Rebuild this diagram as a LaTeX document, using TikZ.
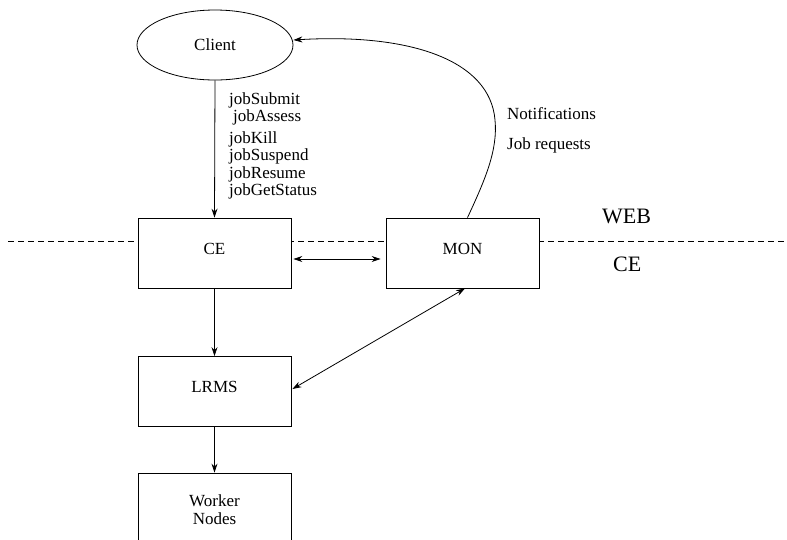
\documentclass[tikz,border=0pt]{standalone}
\usepackage{fontspec}
\setmainfont{Liberation Serif}
\usetikzlibrary{arrows.meta,shapes.geometric}
\begin{document}
\begin{tikzpicture}[x=1pt,y=-1pt,
  every node/.style={font=\fontsize{17}{20}\selectfont},
  boxnode/.style={draw,fill=white,line width=0.8pt,minimum width=153pt,minimum height=70pt,inner sep=0pt,text height=12pt,text depth=10pt},
  arr/.style={line width=0.8pt,-{Stealth[length=9pt,width=6pt]}},
  darr/.style={line width=0.8pt,{Stealth[length=9pt,width=6pt]}-{Stealth[length=9pt,width=6pt]}},
  lbl/.style={anchor=base west,inner sep=0pt},
  biglbl/.style={anchor=base west,inner sep=0pt,font=\fontsize{22}{24}\selectfont}]
\useasboundingbox (0,0) rectangle (787,539);
\clip (0,0) rectangle (787,539);
\fill[white] (0,0) rectangle (787,539);
% dashed boundary
\coordinate (dl) at (8,241);
\coordinate (dr) at (787,241);
\draw[dash pattern=on 6pt off 4pt,line width=0.8pt] (dl) -- (dr);
% nodes
\node[draw,ellipse,line width=0.8pt,minimum width=156pt,minimum height=70pt,inner sep=0pt] (client) at (215,45) {Client};
\node[boxnode] (ce) at (214.5,253) {CE};
\node[boxnode] (mon) at (462.5,253) {MON};
\node[boxnode] (lrms) at (214.5,391.5) {LRMS};
\node[draw,fill=white,line width=0.8pt,minimum width=153pt,minimum height=74pt,inner sep=0pt,align=center,font=\fontsize{17}{18}\selectfont] (wn) at (214.5,510) {Worker\\Nodes};
% connectors
\draw[arr] (client.south) -- (ce.north);
\draw[arr] (ce.south) -- (lrms.north);
\draw[arr] (lrms.south) -- (wn.north);
\draw[darr] ([xshift=2pt,yshift=-6pt]ce.east) -- ([xshift=-5pt,yshift=-6pt]mon.west);
\draw[darr] ([xshift=1pt,yshift=2.5pt]lrms.east) -- ([xshift=2.5pt]mon.south);
\draw[arr] ([xshift=5pt]mon.north) .. controls (485,180) and (498,150) .. (495,120)
  .. controls (490,60) and (410,33) .. ([yshift=5pt]client.east);
% labels
\node[lbl] (l1) at (229,104) {jobSubmit};
\node[lbl] (l2) at (233,121) {jobAssess};
\node[lbl] (l3) at (229,143) {jobKill};
\node[lbl] (l4) at (229,160.5) {jobSuspend};
\node[lbl] (l5) at (229,178) {jobResume};
\node[lbl] (l6) at (229,195.5) {jobGetStatus};
\node[lbl] (n1) at (507,119.5) {Notifications};
\node[lbl] (n2) at (507,149.5) {Job requests};
\node[biglbl] (web) at (602,223) {WEB};
\node[biglbl] (cel) at (613,271) {CE};
\end{tikzpicture}
\end{document}
